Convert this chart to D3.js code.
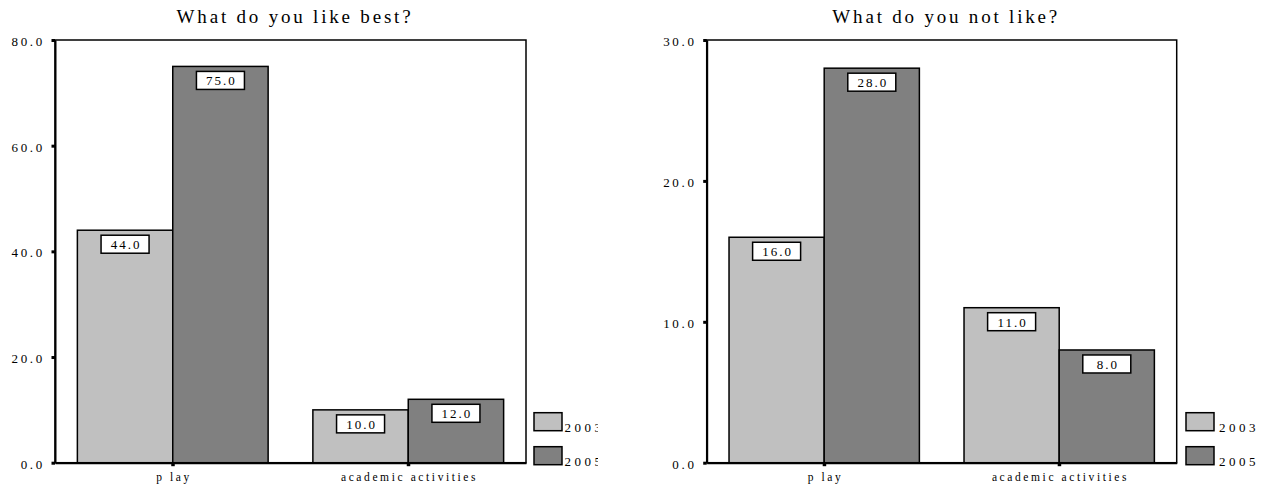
<!DOCTYPE html>
<html>
<head>
<meta charset="utf-8">
<script src="https://cdn.jsdelivr.net/npm/d3@7"></script>
<style>
  html, body { margin: 0; padding: 0; background: #ffffff; }
  svg { display: block; }
  text { font-family: "Liberation Serif", "Times New Roman", serif; fill: #000; }
</style>
</head>
<body>
<svg id="chart" width="1267" height="488"></svg>
<script>
// ---- data ----
const categories = ["play", "academic activities"];
const categoryLabels = ["p lay", "academic activities"];
const seriesNames = ["2003", "2005"];
const likeBest2003 = [44.0, 10.0];
const likeBest2005 = [75.0, 12.0];
const notLike2003 = [16.0, 11.0];
const notLike2005 = [28.0, 8.0];
const likeBestTicks = [0, 20, 40, 60, 80];
const notLikeTicks = [0, 10, 20, 30];
const titles = ["What do you like best?", "What do you not like?"];

const colors = { "2003": "#c0c0c0", "2005": "#808080" };

const svg = d3.select("#chart");

const panels = [
  { title: titles[0], s1: likeBest2003, s2: likeBest2005, ticks: likeBestTicks, max: 80,
    left: 55, right: 526, clipX: 0, clipW: 598, legBox: 8, legText: 30.5 },
  { title: titles[1], s1: notLike2003, s2: notLike2005, ticks: notLikeTicks, max: 30,
    left: 706.7, right: 1176.7, clipX: 633, clipW: 634, legBox: 9.3, legText: 33 }
];

const plotTop = 40, plotBottom = 462.7;

panels.forEach((p, i) => {
  const clipId = "clip" + i;
  svg.append("clipPath").attr("id", clipId)
    .append("rect").attr("x", p.clipX).attr("y", 0).attr("width", p.clipW).attr("height", 488);
  const g = svg.append("g").attr("clip-path", `url(#${clipId})`);

  const x0 = d3.scaleBand().domain(categories).range([p.left, p.right])
    .paddingInner(0.19).paddingOuter(0.095);
  const x1 = d3.scaleBand().domain(seriesNames).range([0, x0.bandwidth()]);
  const y = d3.scaleLinear().domain([0, p.max]).range([plotBottom, plotTop]);

  // title
  g.append("text")
    .attr("x", (p.left + p.right) / 2 + 4.5)
    .attr("y", 23)
    .attr("text-anchor", "middle")
    .attr("font-size", 19)
    .attr("letter-spacing", 2.8)
    .text(p.title);

  // frame
  g.append("rect")
    .attr("x", p.left).attr("y", plotTop)
    .attr("width", p.right - p.left).attr("height", plotBottom - plotTop)
    .attr("fill", "none").attr("stroke", "#000").attr("stroke-width", 1.5);

  // bars
  const rows = categories.map((c, k) => ({ cat: c, values: [
    { s: "2003", v: p.s1[k] }, { s: "2005", v: p.s2[k] } ] }));

  const grp = g.selectAll(".grp").data(rows).enter().append("g")
    .attr("class", "grp")
    .attr("transform", d => `translate(${x0(d.cat)},0)`);

  grp.selectAll("rect.bar").data(d => d.values).enter().append("rect")
    .attr("class", "bar")
    .attr("x", d => x1(d.s))
    .attr("y", d => y(d.v))
    .attr("width", x1.bandwidth())
    .attr("height", d => plotBottom - y(d.v))
    .attr("fill", d => colors[d.s])
    .attr("stroke", "#000").attr("stroke-width", 1.5);

  // value label boxes
  const lab = grp.selectAll("g.lab").data(d => d.values).enter().append("g")
    .attr("class", "lab")
    .attr("transform", d => `translate(${x1(d.s) + x1.bandwidth() / 2},${y(d.v) + 5})`);
  lab.append("rect")
    .attr("x", -24).attr("y", 0).attr("width", 48).attr("height", 18)
    .attr("fill", "#fff").attr("stroke", "#000").attr("stroke-width", 1.5);
  lab.append("text")
    .attr("x", 1).attr("y", 14)
    .attr("text-anchor", "middle")
    .attr("font-size", 13)
    .attr("letter-spacing", 2)
    .text(d => d.v.toFixed(1));

  // y axis
  const yAxis = d3.axisLeft(y).tickValues(p.ticks).tickSize(0).tickPadding(10)
    .tickFormat(d3.format(".1f"));
  const ya = g.append("g").attr("transform", `translate(${p.left},0)`).call(yAxis);
  ya.select(".domain").attr("stroke", "#000").attr("stroke-width", 2);
  ya.selectAll(".tick text")
    .attr("font-family", "Liberation Serif, serif")
    .attr("font-size", 13).attr("letter-spacing", 2.7).attr("fill", "#000")
    .attr("dy", "0.42em");
  ya.selectAll(".tick").append("rect")
    .attr("x", -3.5).attr("y", -1.5).attr("width", 3.5).attr("height", 3).attr("fill", "#000");

  // x axis
  const xAxis = d3.axisBottom(x0).tickSize(0).tickPadding(10)
    .tickFormat((d, k) => categoryLabels[k]);
  const xa = g.append("g").attr("transform", `translate(0,${plotBottom})`).call(xAxis);
  xa.select(".domain").attr("stroke", "#000").attr("stroke-width", 2);
  xa.selectAll(".tick text")
    .attr("font-family", "Liberation Serif, serif")
    .attr("font-size", 11.5).attr("letter-spacing", 2.6).attr("fill", "#000")
    .attr("dx", 1.3);
  xa.selectAll(".tick").append("rect")
    .attr("x", -1.5).attr("y", 0).attr("width", 3.5).attr("height", 3.5).attr("fill", "#000");

  // legend
  const leg = g.selectAll(".leg").data(seriesNames).enter().append("g")
    .attr("class", "leg")
    .attr("transform", (d, k) => `translate(${p.right + p.legBox},${412.7 + k * 34})`);
  leg.append("rect").attr("width", 28).attr("height", 18)
    .attr("fill", d => colors[d]).attr("stroke", "#000").attr("stroke-width", 1.5);
  leg.append("text").attr("x", p.legText).attr("y", 19)
    .attr("font-size", 13).attr("letter-spacing", 3.5).text(d => d);
});
</script>
</body>
</html>
